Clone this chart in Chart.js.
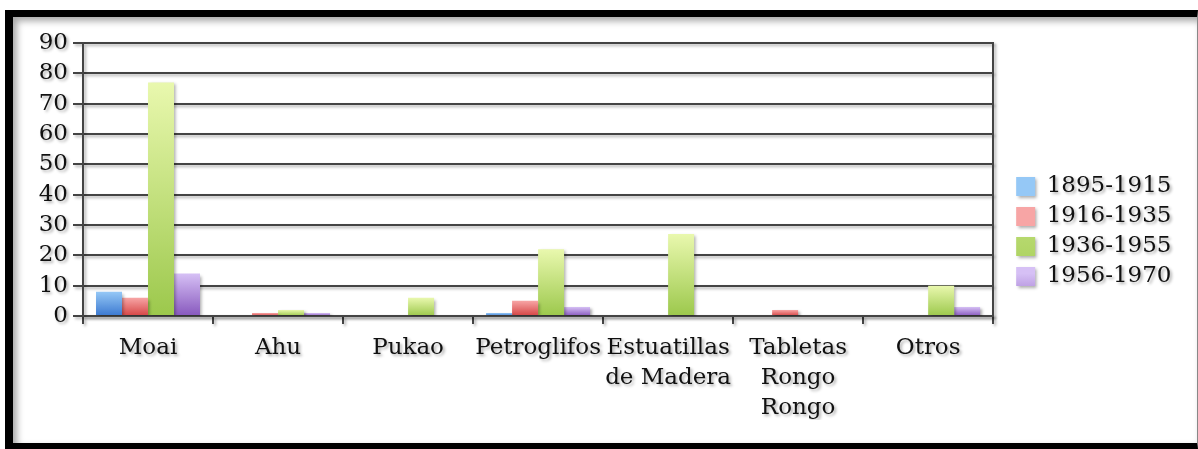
<!DOCTYPE html>
<html>
<head>
<meta charset="utf-8">
<script src="https://cdn.jsdelivr.net/npm/chart.js@4/dist/chart.umd.min.js"></script>
<style>
  html, body { margin: 0; padding: 0; background: #fff; }
  body { width: 1198px; height: 449px; position: relative; overflow: hidden; }
  #frame {
    position: absolute; left: 5px; top: 10px; width: 1193px; height: 439px;
    box-sizing: border-box;
    border-top: 7px solid #000; border-left: 8px solid #000;
    border-bottom: 6px solid #000; border-right: 1px solid #888;
    box-shadow: inset 4px 4px 7px rgba(0,0,0,0.35);
    background: #fff;
  }
  #c { position: absolute; left: 13px; top: 17px; }
</style>
</head>
<body>
<div id="frame"></div>
<canvas id="c" width="1184" height="426"></canvas>
<script>
const categories = ['Moai', 'Ahu', 'Pukao', 'Petroglifos', ['Estuatillas', 'de Madera'], ['Tabletas', 'Rongo', 'Rongo'], 'Otros'];
const seriesNames = ['1895-1915', '1916-1935', '1936-1955', '1956-1970'];
const s1895_1915 = [8, 0, 0, 1, 0, 0, 0];
const s1916_1935 = [6, 1, 0, 5, 0, 2, 0];
const s1936_1955 = [77, 2, 6, 22, 27, 0, 10];
const s1956_1970 = [14, 1, 0, 3, 0, 0, 3];
const yTicks = [0, 10, 20, 30, 40, 50, 60, 70, 80, 90];

const FONT = { family: '"DejaVu Serif", serif', size: 23, lineHeight: 30 / 23 };
const TEXT = '#111';
const GRID = '#444';

function grad(light, mid, dark) {
  return (ctx) => {
    if (ctx.type !== 'data') return mid;
    const chart = ctx.chart;
    if (!chart.chartArea || !chart.scales.y) return mid;
    const v = ctx.parsed ? ctx.parsed.y : ctx.raw;
    const y = chart.scales.y;
    const top = y.getPixelForValue(v), base = y.getPixelForValue(0);
    if (!isFinite(top) || !isFinite(base) || Math.abs(base - top) < 0.5) return dark;
    const g = chart.ctx.createLinearGradient(0, top, 0, base);
    g.addColorStop(0, light);
    g.addColorStop(1, dark);
    return g;
  };
}

const shadowPlugin = {
  id: 'shadow',
  beforeDraw(chart) {
    const c = chart.ctx;
    c.save();
    c.shadowColor = 'rgba(0,0,0,0.32)';
    c.shadowOffsetX = 2;
    c.shadowOffsetY = 2;
    c.shadowBlur = 3;
  },
  afterDraw(chart) {
    chart.ctx.restore();
  }
};

new Chart(document.getElementById('c'), {
  type: 'bar',
  data: {
    labels: categories,
    datasets: [
      { label: seriesNames[0], data: s1895_1915, backgroundColor: grad('#95c8f6', '#5f9be6', '#3b78d0') },
      { label: seriesNames[1], data: s1916_1935, backgroundColor: grad('#f7a5a5', '#e56a6a', '#d54444') },
      { label: seriesNames[2], data: s1936_1955, backgroundColor: grad('#e9f8ae', '#c2e27a', '#9cc84c') },
      { label: seriesNames[3], data: s1956_1970, backgroundColor: grad('#d6c0f5', '#ad8ae0', '#8758bd') }
    ]
  },
  options: {
    responsive: false,
    animation: false,
    events: [],
    categoryPercentage: 0.8,
    barPercentage: 1.0,
    borderWidth: 0,
    layout: { padding: { left: 0, top: 26, right: 15.5, bottom: 23 } },
    scales: {
      x: {
        offset: true,
        grid: { offset: true, drawOnChartArea: false, drawTicks: true, tickLength: 8, color: GRID, lineWidth: 2 },
        border: { display: true, color: GRID, width: 2 },
        ticks: { font: FONT, color: TEXT, padding: 9, maxRotation: 0, autoSkip: false },
        afterFit: (s) => { s.height = 104; }
      },
      y: {
        min: 0, max: 90,
        afterBuildTicks: (s) => { s.ticks = yTicks.map(v => ({ value: v })); },
        grid: { color: GRID, lineWidth: 2, tickLength: 10, drawTicks: true },
        border: { display: true, color: GRID, width: 2 },
        ticks: { font: FONT, color: TEXT, padding: 5, autoSkip: false, stepSize: 10 },
        afterFit: (s) => { s.width = 70; }
      },
      y2: {
        position: 'right',
        display: true,
        grid: { drawOnChartArea: false, drawTicks: false },
        border: { display: true, color: GRID, width: 2 },
        ticks: { display: false },
        afterFit: (s) => { s.width = 16; }
      }
    },
    plugins: {
      legend: {
        position: 'right',
        align: 'center',
        labels: { font: FONT, color: TEXT, boxWidth: 19, boxHeight: 19, padding: 7 }
      },
      tooltip: { enabled: false },
      title: { display: false }
    }
  },
  plugins: [shadowPlugin]
});
</script>
</body>
</html>
